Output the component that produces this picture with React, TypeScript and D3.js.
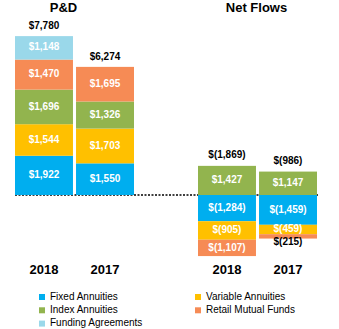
import React from "react";
import * as d3 from "d3";

const years = ["2018", "2017"];
const seriesKeys = ["fixed", "variable", "index", "retail", "funding"];
const seriesNames = ["Fixed Annuities", "Variable Annuities", "Index Annuities", "Retail Mutual Funds", "Funding Agreements"];
const seriesColors = ["#00aeef", "#ffc000", "#92b44e", "#f68b55", "#9ad8ea"];

const pdFixed = [1922, 1550];
const pdVariable = [1544, 1703];
const pdIndex = [1696, 1326];
const pdRetail = [1470, 1695];
const pdFunding = [1148, 0];
const pdTotals = [7780, 6274];

const nfFixed = [-1284, -1459];
const nfVariable = [-905, -459];
const nfIndex = [1427, 1147];
const nfRetail = [-1107, -215];
const nfFunding = [0, 0];
const nfTotals = [-1869, -986];

const panelTitles = ["P&D", "Net Flows"];

const FONT = "'Liberation Sans', Arial, sans-serif";

function fmt(v: number) {
  const s = d3.format(",")(Math.abs(v));
  return v < 0 ? `$(${s})` : `$${s}`;
}

function buildRows(f: number[], v: number[], i: number[], r: number[], fu: number[]) {
  return years.map((y, k) => ({ year: y, fixed: f[k], variable: v[k], index: i[k], retail: r[k], funding: fu[k] }));
}

const k = 159 / 7786;
const base = 195;
const y = d3.scaleLinear().domain([-3000, 8000]).range([base + 3000 * k, base - 8000 * k]);

export default function App() {
  const panels = [
    { title: panelTitles[0], rows: buildRows(pdFixed, pdVariable, pdIndex, pdRetail, pdFunding), totals: pdTotals, range: [15, 134] as [number, number] },
    { title: panelTitles[1], rows: buildRows(nfFixed, nfVariable, nfIndex, nfRetail, nfFunding), totals: nfTotals, range: [198, 317] as [number, number] },
  ];
  const stackGen = d3.stack<any>().keys(seriesKeys).offset(d3.stackOffsetDiverging).order(d3.stackOrderNone);
  const clipBottom = y(-3000);

  return (
    <svg width={339} height={329} style={{ position: "absolute", left: 0, top: 0 }} fontFamily={FONT}>
      <defs>
        <clipPath id="plotclip">
          <rect x={0} y={0} width={339} height={clipBottom} />
        </clipPath>
      </defs>
      <line x1={15} x2={318} y1={y(0)} y2={y(0)} stroke="#000" strokeWidth={1.5} strokeDasharray="2,1.5" />
      {panels.map((p, pi) => {
        const x = d3.scaleBand().domain(years).range(p.range).paddingInner(0.05).paddingOuter(0);
        const stacked = stackGen(p.rows);
        const center = (p.range[0] + p.range[1]) / 2;
        return (
          <g key={pi}>
            <text x={center + (pi === 0 ? -11 : -1)} y={8.5} textAnchor="middle" dominantBaseline="middle" fontSize={13} fontWeight="bold">{p.title}</text>
            <g clipPath="url(#plotclip)">
              {stacked.map((s, si) =>
                s.map((d, di) => {
                  const val = (p.rows[di] as any)[seriesKeys[si]];
                  if (!val) return null;
                  const y0 = y(Math.max(d[0], d[1]));
                  const y1 = Math.min(y(Math.min(d[0], d[1])), clipBottom);
                  return (
                    <rect key={`${si}-${di}`} x={x(years[di])} y={y0} width={x.bandwidth()} height={y1 - y0} fill={seriesColors[si]} />
                  );
                })
              )}
            </g>
            {stacked.map((s, si) =>
              s.map((d, di) => {
                const val = (p.rows[di] as any)[seriesKeys[si]];
                if (!val) return null;
                const y0 = y(Math.max(d[0], d[1]));
                const y1 = Math.min(y(Math.min(d[0], d[1])), clipBottom);
                const h = y1 - y0;
                const cx = (x(years[di]) as number) + x.bandwidth() / 2;
                if (h < 8) {
                  return (
                    <text key={`l${si}-${di}`} x={cx} y={y1 + 4} textAnchor="middle" dominantBaseline="middle" fontSize={10} fontWeight="bold" fill="#000">{fmt(val)}</text>
                  );
                }
                return (
                  <text key={`l${si}-${di}`} x={cx} y={(y0 + y1) / 2} textAnchor="middle" dominantBaseline="middle" fontSize={10} fontWeight="bold" fill="#fff">{fmt(val)}</text>
                );
              })
            )}
            {p.rows.map((r, di) => {
              const top = d3.sum(seriesKeys, (kk) => Math.max(0, (r as any)[kk]));
              const cx = (x(years[di]) as number) + x.bandwidth() / 2;
              return (
                <g key={`t${di}`}>
                  <text x={cx} y={y(top) - 10} textAnchor="middle" dominantBaseline="middle" fontSize={10} fontWeight="bold" fill="#000">{fmt(p.totals[di])}</text>
                  <text x={cx} y={271} textAnchor="middle" dominantBaseline="middle" fontSize={13} fontWeight="bold" fill="#000">{years[di]}</text>
                </g>
              );
            })}
          </g>
        );
      })}
      {seriesNames.map((n, i) => {
        const col = i === 4 ? 0 : i % 2;
        const row = Math.floor(i / 2);
        const lx = col === 0 ? 39 : 195;
        const ly = 297 + row * 13.3;
        return (
          <g key={n}>
            <rect x={lx} y={ly - 3} width={6} height={6} fill={seriesColors[i]} />
            <text x={lx + 11} y={ly} dominantBaseline="middle" fontSize={10} fill="#000">{n}</text>
          </g>
        );
      })}
    </svg>
  );
}
